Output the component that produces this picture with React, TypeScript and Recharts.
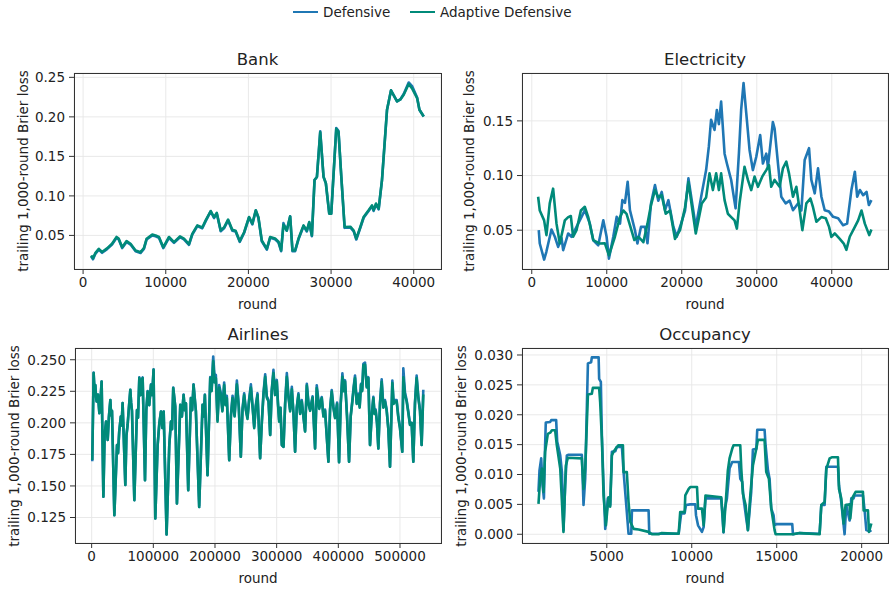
import { LineChart, Line, XAxis, YAxis, CartesianGrid } from "recharts";

type Pt = [number, number];

const BLUE = "#1f77b4";
const TEAL = "#008a79";
const INK = "#222";
const FONT = "'DejaVu Sans', sans-serif";

// ---- Bank ----
const bankAdaptive: Pt[] = [
  [970, 0.0245], [1200, 0.0212], [1500, 0.028], [1900, 0.033], [2300, 0.029], [2900, 0.0336],
  [3500, 0.0394], [4050, 0.048], [4300, 0.046], [4730, 0.035], [5260, 0.0428], [5740, 0.0394],
  [6350, 0.031], [6960, 0.0288], [7360, 0.034], [7680, 0.0458], [8370, 0.051], [8770, 0.05],
  [9180, 0.048], [9700, 0.035], [10390, 0.048], [11000, 0.0415], [11720, 0.0487], [12200, 0.046],
  [12810, 0.039], [13210, 0.052], [13820, 0.0627], [14420, 0.06], [14830, 0.069], [15440, 0.0809],
  [15840, 0.073], [16170, 0.0784], [16650, 0.0564], [17050, 0.06], [17540, 0.07], [18060, 0.057],
  [18450, 0.056], [18950, 0.0428], [19480, 0.054], [20080, 0.0733], [20480, 0.065], [20890, 0.0818],
  [21210, 0.073], [21620, 0.0436], [22230, 0.033], [22630, 0.048], [23230, 0.046], [23640, 0.042],
  [23960, 0.031], [24240, 0.0635], [24640, 0.056], [25050, 0.074], [25330, 0.031], [25650, 0.031],
  [26060, 0.046], [26670, 0.0627], [27070, 0.056], [27360, 0.067], [27680, 0.05], [28000, 0.12],
  [28290, 0.124], [28690, 0.1805], [29090, 0.124], [29370, 0.116], [29780, 0.0776], [30020, 0.0776],
  [30630, 0.185], [30900, 0.181], [31240, 0.124], [31640, 0.0606], [32330, 0.061], [32740, 0.056],
  [33050, 0.0458], [33540, 0.0606], [33940, 0.0733], [34540, 0.0818], [34950, 0.088], [35150, 0.082],
  [35440, 0.0903], [35760, 0.084], [36160, 0.12], [36770, 0.209], [37250, 0.2335], [37980, 0.2195],
  [38380, 0.222], [38790, 0.228], [39390, 0.2415], [39800, 0.236], [40410, 0.2238], [40690, 0.209],
  [41210, 0.2004],
];
const bankDefensive: Pt[] = [
  [970, 0.0235], [1200, 0.0198], [1500, 0.027], [1900, 0.032], [2300, 0.028], [2900, 0.0326],
  [3500, 0.0384], [4050, 0.047], [4300, 0.045], [4730, 0.034], [5260, 0.0418], [5740, 0.0384],
  [6350, 0.03], [6960, 0.0278], [7360, 0.033], [7680, 0.0448], [8370, 0.05], [8770, 0.049],
  [9180, 0.047], [9700, 0.034], [10390, 0.047], [11000, 0.0405], [11720, 0.0477], [12200, 0.045],
  [12810, 0.038], [13210, 0.051], [13820, 0.0617], [14420, 0.059], [14830, 0.068], [15440, 0.0805],
  [15840, 0.072], [16170, 0.078], [16650, 0.0554], [17050, 0.059], [17540, 0.069], [18060, 0.056],
  [18450, 0.055], [18950, 0.0418], [19480, 0.053], [20080, 0.0728], [20480, 0.064], [20890, 0.0815],
  [21210, 0.072], [21620, 0.0426], [22230, 0.032], [22630, 0.047], [23230, 0.045], [23640, 0.041],
  [23960, 0.03], [24240, 0.0655], [24640, 0.056], [25050, 0.0742], [25330, 0.03], [25650, 0.03],
  [26060, 0.045], [26670, 0.0617], [27070, 0.055], [27360, 0.066], [27680, 0.049], [28000, 0.12],
  [28290, 0.124], [28690, 0.1818], [29090, 0.124], [29370, 0.116], [29780, 0.0776], [30020, 0.0776],
  [30630, 0.186], [30900, 0.182], [31240, 0.124], [31640, 0.0596], [32330, 0.06], [32740, 0.055],
  [33050, 0.0448], [33540, 0.0596], [33940, 0.0723], [34540, 0.0808], [34950, 0.087], [35150, 0.081],
  [35440, 0.0893], [35760, 0.083], [36160, 0.12], [36770, 0.209], [37250, 0.2335], [37980, 0.2195],
  [38380, 0.222], [38790, 0.229], [39390, 0.2435], [39800, 0.239], [40410, 0.2245], [40690, 0.209],
  [41210, 0.2004],
];

// ---- Electricity ----
const elecDefensive: Pt[] = [
  [935, 0.05], [1070, 0.0378], [1650, 0.0231], [1940, 0.03], [2630, 0.0506], [3080, 0.044],
  [3520, 0.0347], [3970, 0.043], [4190, 0.0317], [4860, 0.047], [5300, 0.044], [5970, 0.053],
  [6640, 0.0622], [7080, 0.0683], [7750, 0.056], [8200, 0.0408], [8870, 0.0362], [9540, 0.059],
  [9980, 0.044], [10290, 0.024], [10870, 0.044], [11320, 0.0622], [11770, 0.056], [12080, 0.0775],
  [12430, 0.075], [12790, 0.0943], [13090, 0.0683], [13760, 0.05], [14090, 0.0378], [14560, 0.053],
  [15100, 0.053], [15430, 0.038], [15900, 0.0745], [16430, 0.0913], [16870, 0.077], [17330, 0.085],
  [17770, 0.0683], [18220, 0.0775], [18890, 0.053], [19330, 0.044], [19910, 0.056], [20440, 0.068],
  [20890, 0.0974], [21340, 0.077], [21870, 0.053], [22670, 0.0837], [23250, 0.105], [23610, 0.1264],
  [23910, 0.151], [24370, 0.1417], [24680, 0.16], [24950, 0.147], [25250, 0.1677], [25710, 0.12],
  [26020, 0.111], [26590, 0.0959], [27180, 0.07], [27620, 0.12], [27920, 0.16], [28240, 0.1846],
  [28600, 0.157], [29040, 0.1234], [29480, 0.105], [29930, 0.117], [30460, 0.137], [30820, 0.111],
  [31270, 0.12], [31490, 0.108], [32150, 0.149], [32380, 0.143], [32830, 0.111], [33270, 0.0806],
  [33850, 0.0745], [34390, 0.077], [34830, 0.0683], [35500, 0.0745], [35950, 0.068], [36390, 0.1142],
  [36970, 0.125], [37280, 0.096], [37730, 0.0837], [38170, 0.1066], [38620, 0.0806], [39060, 0.0683],
  [39640, 0.067], [40180, 0.0622], [40850, 0.061], [41510, 0.0546], [42050, 0.056], [42620, 0.0867],
  [43080, 0.1035], [43390, 0.0806], [43750, 0.0867], [44190, 0.082], [44640, 0.085], [44950, 0.073],
  [45290, 0.0775],
];
const elecAdaptive: Pt[] = [
  [850, 0.0806], [1070, 0.068], [1650, 0.059], [1960, 0.0455], [2400, 0.0745], [2850, 0.088],
  [3300, 0.056], [3740, 0.0378], [4410, 0.059], [4860, 0.062], [5210, 0.063], [5520, 0.044],
  [5970, 0.05], [6550, 0.068], [7080, 0.0714], [7530, 0.062], [8200, 0.041], [9080, 0.0378],
  [9750, 0.038], [10290, 0.027], [11090, 0.044], [11760, 0.062], [12210, 0.068], [12640, 0.065],
  [13090, 0.0546], [13680, 0.041], [14230, 0.044], [14880, 0.039], [15430, 0.056], [15900, 0.073],
  [16430, 0.0867], [16870, 0.08], [17330, 0.082], [17860, 0.065], [18440, 0.068], [19100, 0.042],
  [19770, 0.05], [20440, 0.071], [20890, 0.094], [21430, 0.068], [21870, 0.047], [22670, 0.0745],
  [23250, 0.08], [23700, 0.102], [24150, 0.0867], [24590, 0.102], [24950, 0.0867], [25250, 0.102],
  [25710, 0.0775], [26150, 0.065], [26590, 0.062], [27040, 0.059], [27350, 0.0515], [27700, 0.0745],
  [28370, 0.108], [28820, 0.096], [29260, 0.0867], [29710, 0.099], [30160, 0.0897], [30730, 0.099],
  [31270, 0.105], [31630, 0.1096], [31930, 0.0897], [32380, 0.096], [33050, 0.0897], [33490, 0.1066],
  [33940, 0.1127], [34300, 0.102], [34830, 0.0806], [35280, 0.0897], [35720, 0.0683], [36080, 0.05],
  [36610, 0.0745], [37150, 0.079], [37500, 0.071], [37950, 0.0577], [38620, 0.062], [39200, 0.061],
  [39640, 0.053], [39950, 0.0439], [40400, 0.047], [41070, 0.042], [41600, 0.0378], [41950, 0.032],
  [42400, 0.044], [43080, 0.053], [43520, 0.059], [43970, 0.068], [44410, 0.056], [45000, 0.0455],
  [45290, 0.0506],
];

// ---- Airlines ----
const airAdaptive: Pt[] = [
  [1000, 0.1705], [3200, 0.2394], [4600, 0.226], [6000, 0.23], [7000, 0.221], [8100, 0.2169],
  [10200, 0.2225], [12500, 0.2076], [14300, 0.218], [16200, 0.2328], [19000, 0.1414], [21000, 0.19],
  [23300, 0.201], [24700, 0.194], [26000, 0.1864], [28000, 0.205], [30300, 0.218], [31600, 0.206],
  [33000, 0.2095], [36800, 0.1268], [41100, 0.1824], [42800, 0.176], [44700, 0.193], [47300, 0.205],
  [48600, 0.198], [50200, 0.2156], [54600, 0.1507], [56400, 0.19], [58300, 0.1983], [60400, 0.212],
  [62700, 0.2261], [64000, 0.216], [65400, 0.2095], [69200, 0.1388], [73500, 0.2102], [75200, 0.204],
  [77300, 0.2355], [79500, 0.222], [81000, 0.234], [82700, 0.2355], [86500, 0.1546], [88600, 0.21],
  [90800, 0.2248], [93400, 0.214], [96200, 0.23], [98200, 0.222], [100400, 0.2421], [103200, 0.1242],
  [107000, 0.1824], [109800, 0.2], [112400, 0.209], [114600, 0.196], [116800, 0.209], [121500, 0.1115],
  [125900, 0.1824], [128600, 0.201], [130400, 0.195], [132300, 0.2275], [135600, 0.2129], [138300, 0.1361],
  [143700, 0.2142], [146300, 0.205], [149100, 0.222], [151000, 0.21], [152900, 0.2155], [156600, 0.1467],
  [160900, 0.2196], [163000, 0.21], [165200, 0.2301], [169000, 0.2095], [174400, 0.1334], [179800, 0.2142],
  [181800, 0.205], [183600, 0.222], [187900, 0.1586], [192300, 0.2355], [194600, 0.225], [197100, 0.249],
  [199300, 0.232], [201400, 0.2355], [204100, 0.201], [206800, 0.228], [209500, 0.222], [212000, 0.209],
  [214900, 0.23], [217000, 0.214], [219200, 0.2196], [223100, 0.1705], [225800, 0.205], [228500, 0.2196],
  [231800, 0.205], [235500, 0.2305], [238600, 0.212], [241900, 0.1732], [244600, 0.21], [247300, 0.222],
  [250000, 0.21], [252700, 0.203], [255400, 0.218], [258200, 0.228], [261000, 0.212], [263600, 0.1957],
  [266200, 0.213], [269000, 0.222], [273200, 0.1719], [275900, 0.2], [278600, 0.222], [281400, 0.2365],
  [284000, 0.22], [286800, 0.2169], [289500, 0.1904], [292000, 0.225], [294800, 0.2395], [297400, 0.222],
  [300200, 0.2328], [302100, 0.215], [304000, 0.201], [306200, 0.212], [308400, 0.1824], [311100, 0.181],
  [313800, 0.215], [316500, 0.2365], [319200, 0.22], [321900, 0.209], [324600, 0.2265], [327200, 0.208],
  [329900, 0.1771], [332600, 0.212], [335300, 0.222], [338000, 0.207], [340700, 0.2169], [343400, 0.205],
  [346100, 0.193], [348900, 0.2295], [351600, 0.215], [354300, 0.2095], [358300, 0.22], [362300, 0.1798],
  [365000, 0.2275], [369000, 0.211], [373100, 0.2196], [375800, 0.205], [378500, 0.2095], [383900, 0.1692],
  [386600, 0.21], [389300, 0.2248], [392000, 0.212], [394700, 0.2037], [398000, 0.215], [401200, 0.1688],
  [403900, 0.215], [406600, 0.2365], [408700, 0.225], [410900, 0.2328], [414100, 0.205], [417400, 0.1692],
  [420100, 0.205], [422800, 0.2169], [425000, 0.228], [427100, 0.2355], [429800, 0.215], [432500, 0.222],
  [434600, 0.212], [436800, 0.2301], [438700, 0.225], [440600, 0.2455], [443300, 0.2462], [446000, 0.228],
  [448700, 0.2355], [451400, 0.1824], [454100, 0.205], [456800, 0.2196], [458700, 0.207], [460600, 0.2095],
  [462700, 0.2], [464900, 0.1798], [467600, 0.215], [470300, 0.2325], [473000, 0.212], [475700, 0.2169],
  [478400, 0.2095], [481100, 0.195], [483800, 0.1652], [487600, 0.2315], [489700, 0.215], [491900, 0.2169],
  [494600, 0.2169], [497300, 0.204], [500000, 0.1957], [503700, 0.1771], [505400, 0.236], [508100, 0.222],
  [510800, 0.2169], [513500, 0.208], [516200, 0.1983], [518900, 0.2], [521600, 0.1692], [524300, 0.215],
  [527000, 0.2355], [529700, 0.22], [532400, 0.2095], [535100, 0.1824], [537800, 0.2225],
];
const airDefensive: Pt[] = [
  [1000, 0.1695], [3200, 0.2398], [4600, 0.226], [6000, 0.23], [7000, 0.221], [8100, 0.2169],
  [10200, 0.2225], [12500, 0.2076], [14300, 0.218], [16200, 0.2328], [19000, 0.1414], [21000, 0.19],
  [23300, 0.201], [24700, 0.194], [26000, 0.1864], [28000, 0.205], [30300, 0.218], [31600, 0.206],
  [33000, 0.2095], [36800, 0.1268], [41100, 0.1824], [42800, 0.176], [44700, 0.193], [47300, 0.205],
  [48600, 0.198], [50200, 0.2156], [54600, 0.1507], [56400, 0.19], [58300, 0.1983], [60400, 0.212],
  [62700, 0.2261], [64000, 0.216], [65400, 0.2095], [69200, 0.1388], [73500, 0.2102], [75200, 0.204],
  [77300, 0.236], [79500, 0.222], [81000, 0.234], [82700, 0.236], [86500, 0.1546], [88600, 0.21],
  [90800, 0.2252], [93400, 0.214], [96200, 0.2305], [98200, 0.222], [100400, 0.2425], [103200, 0.1242],
  [107000, 0.1824], [109800, 0.2], [112400, 0.209], [114600, 0.196], [116800, 0.209], [121500, 0.1115],
  [125900, 0.1824], [128600, 0.201], [130400, 0.195], [132300, 0.228], [135600, 0.2129], [138300, 0.1361],
  [143700, 0.2142], [146300, 0.205], [149100, 0.2225], [151000, 0.21], [152900, 0.2155], [156600, 0.1467],
  [160900, 0.2196], [163000, 0.21], [165200, 0.2306], [169000, 0.2095], [174400, 0.1334], [179800, 0.2142],
  [181800, 0.205], [183600, 0.2225], [187900, 0.1586], [192300, 0.2362], [194600, 0.227], [197100, 0.2526],
  [199300, 0.236], [201400, 0.238], [204100, 0.2025], [206800, 0.23], [209500, 0.2235], [212000, 0.21],
  [214900, 0.232], [217000, 0.215], [219200, 0.2215], [223100, 0.1705], [225800, 0.206], [228500, 0.2215],
  [231800, 0.206], [235500, 0.2335], [238600, 0.213], [241900, 0.1732], [244600, 0.211], [247300, 0.2235],
  [250000, 0.211], [252700, 0.2045], [255400, 0.219], [258200, 0.2305], [261000, 0.213], [263600, 0.197],
  [266200, 0.214], [269000, 0.2235], [273200, 0.1719], [275900, 0.2], [278600, 0.2235], [281400, 0.2385],
  [284000, 0.221], [286800, 0.218], [289500, 0.1904], [292000, 0.226], [294800, 0.242], [297400, 0.223],
  [300200, 0.234], [302100, 0.216], [304000, 0.2025], [306200, 0.212], [308400, 0.1824], [311100, 0.181],
  [313800, 0.216], [316500, 0.2395], [319200, 0.221], [321900, 0.2105], [324600, 0.2285], [327200, 0.208],
  [329900, 0.1771], [332600, 0.212], [335300, 0.2235], [338000, 0.208], [340700, 0.218], [343400, 0.205],
  [346100, 0.1935], [348900, 0.231], [351600, 0.216], [354300, 0.2105], [358300, 0.221], [362300, 0.1798],
  [365000, 0.2298], [369000, 0.212], [373100, 0.2205], [375800, 0.206], [378500, 0.2105], [383900, 0.1692],
  [386600, 0.211], [389300, 0.226], [392000, 0.213], [394700, 0.2045], [398000, 0.216], [401200, 0.1688],
  [403900, 0.216], [406600, 0.2392], [408700, 0.226], [410900, 0.2338], [414100, 0.206], [417400, 0.1692],
  [420100, 0.206], [422800, 0.218], [425000, 0.229], [427100, 0.2375], [429800, 0.216], [432500, 0.2232],
  [434600, 0.213], [436800, 0.231], [438700, 0.226], [440600, 0.2468], [443300, 0.2478], [446000, 0.229],
  [448700, 0.2362], [451400, 0.1824], [454100, 0.206], [456800, 0.2206], [458700, 0.208], [460600, 0.2105],
  [462700, 0.2], [464900, 0.1798], [467600, 0.216], [470300, 0.2345], [473000, 0.213], [475700, 0.218],
  [478400, 0.2105], [481100, 0.195], [483800, 0.1652], [487600, 0.2335], [489700, 0.216], [491900, 0.218],
  [494600, 0.218], [497300, 0.205], [500000, 0.1965], [503700, 0.1771], [505400, 0.2432], [508100, 0.224],
  [510800, 0.218], [513500, 0.209], [516200, 0.199], [518900, 0.2], [521600, 0.1692], [524300, 0.216],
  [527000, 0.2375], [529700, 0.221], [532400, 0.2105], [535100, 0.1824], [537800, 0.2262],
];

// ---- Occupancy ----
const occDefensive: Pt[] = [
  [980, 0.0071], [1040, 0.0107], [1140, 0.0127], [1220, 0.0082], [1300, 0.006], [1370, 0.0149],
  [1410, 0.0187], [1670, 0.0188], [1730, 0.0191], [2020, 0.0191], [2080, 0.0155], [2260, 0.0132],
  [2360, 0.0104], [2450, 0.0007], [2550, 0.0082], [2650, 0.0132], [2750, 0.0133], [3530, 0.0133],
  [3570, 0.0104], [3630, 0.0049], [3730, 0.0093], [3830, 0.0216], [3890, 0.0286], [4080, 0.0288],
  [4120, 0.0296], [4520, 0.0296], [4550, 0.026], [4650, 0.0255], [4710, 0.0166], [4810, 0.0082],
  [4910, 0.0009], [5060, 0.006], [5200, 0.0049], [5300, 0.0138], [5500, 0.0139], [5590, 0.0146],
  [5890, 0.0146], [5990, 0.0104], [6140, 0.0051], [6280, 0.0001], [6440, 0.0001], [6480, 0.004],
  [7460, 0.004], [7500, 0.0001], [9230, 0.0001], [9380, 0.0035], [9580, 0.0035], [9660, 0.0049],
  [9910, 0.005], [10210, 0.005], [10250, 0.0032], [10370, 0.0015], [10600, 0.0004], [10700, 0.0012],
  [10810, 0.006], [11735, 0.006], [11790, 0.0037], [11870, 0.0003], [11950, 0.0043], [12070, 0.006],
  [12225, 0.011], [12380, 0.0121], [12775, 0.0121], [12855, 0.0093], [12970, 0.0088], [13050, 0.006],
  [13210, 0.0026], [13305, 0.0007], [13500, 0.0071], [13600, 0.0142], [13800, 0.0143], [13855, 0.0175],
  [14285, 0.0175], [14345, 0.0149], [14485, 0.0107], [14580, 0.0093], [14680, 0.0043], [14815, 0.0032],
  [14875, 0.0015], [14975, 0.0017], [15915, 0.0017], [15955, 0], [16350, 0.0002], [17525, 0.0001],
  [17625, 0.0049], [17820, 0.0049], [17920, 0.0113], [18605, 0.0113], [18665, 0.0082], [18800, 0.0054],
  [18900, 0.0026], [18995, 0], [19095, 0.0049], [19290, 0.0023], [19390, 0.006], [19525, 0.006],
  [19585, 0.0065], [20075, 0.0065], [20175, 0.004], [20275, 0.0007], [20470, 0.0005], [20570, 0.0007],
];
const occAdaptive: Pt[] = [
  [980, 0.0051], [1080, 0.0093], [1180, 0.011], [1280, 0.0071], [1370, 0.0138], [1530, 0.0168],
  [1670, 0.017], [1770, 0.0174], [1960, 0.0174], [2060, 0.0149], [2260, 0.011], [2450, 0.0004],
  [2590, 0.0115], [2710, 0.0128], [3530, 0.0127], [3630, 0.0076], [3730, 0.011], [3830, 0.0188],
  [3890, 0.0234], [4120, 0.0235], [4180, 0.0245], [4550, 0.0245], [4610, 0.0221], [4710, 0.016],
  [4810, 0.0065], [4950, 0.0015], [5100, 0.0062], [5200, 0.0046], [5300, 0.0132], [5400, 0.0138],
  [5590, 0.0146], [5690, 0.0149], [5950, 0.0149], [5990, 0.0104], [6180, 0.0104], [6280, 0.0054],
  [6380, 0.0021], [6580, 0.0009], [6870, 0.0008], [7460, 0.0004], [7660, 0], [8050, 0],
  [8240, 0.0002], [9230, 0.0001], [9320, 0.0037], [9580, 0.0037], [9620, 0.0065], [9820, 0.0076],
  [9910, 0.0079], [10310, 0.0079], [10370, 0.0043], [10600, 0.0043], [10700, 0.0015], [10810, 0.0065],
  [11735, 0.0062], [11830, 0.0026], [11870, 0.0004], [11990, 0.0049], [12125, 0.0107], [12225, 0.0127],
  [12380, 0.0143], [12460, 0.0149], [12855, 0.0149], [12915, 0.011], [13010, 0.0068], [13170, 0.0049],
  [13305, 0.0007], [13445, 0.0065], [13600, 0.0115], [13800, 0.0143], [13895, 0.0158], [14285, 0.0158],
  [14385, 0.0104], [14540, 0.0093], [14680, 0.0043], [14875, 0.0007], [14935, 0], [15955, 0],
  [16350, 0.0002], [17525, 0], [17625, 0.0049], [17820, 0.0054], [17920, 0.0109], [18115, 0.0127],
  [18270, 0.0129], [18605, 0.0129], [18665, 0.0076], [18800, 0.006], [18940, 0.0018], [19055, 0.0049],
  [19290, 0.005], [19330, 0.0026], [19450, 0.0061], [19645, 0.0071], [20075, 0.0071], [20115, 0.004],
  [20370, 0.004], [20430, 0.0004], [20570, 0.0018],
];

// ticks
const bankXTicks = [0, 10000, 20000, 30000, 40000];
const bankYTicks = [0.05, 0.1, 0.15, 0.2, 0.25];
const elecXTicks = [0, 10000, 20000, 30000, 40000];
const elecYTicks = [0.05, 0.1, 0.15];
const airXTicks = [0, 100000, 200000, 300000, 400000, 500000];
const airYTicks = [0.125, 0.15, 0.175, 0.2, 0.225, 0.25];
const occXTicks = [5000, 10000, 15000, 20000];
const occYTicks = [0, 0.005, 0.01, 0.015, 0.02, 0.025, 0.03];

const Y_LABEL = "trailing 1,000-round Brier loss";

const toRows = (pts: Pt[]) => pts.map(([x, y]) => ({ x, y }));

type PanelProps = {
  title: string;
  plot: { left: number; top: number; width: number; height: number };
  xDomain: [number, number];
  yDomain: [number, number];
  xTicks: number[];
  yTicks: number[];
  yDigits: number;
  yLabelX: number;
  defensive: Pt[];
  adaptive: Pt[];
};

const YW = 70;
const XH = 30;
const MT = 10;
const MR = 30;

function Panel(p: PanelProps) {
  const { plot } = p;
  const tick = { fontSize: 13.5, fill: INK, fontFamily: FONT };
  const tickLine = { stroke: "#333", strokeWidth: 1 };
  const cx = plot.left + plot.width / 2;
  const cy = plot.top + plot.height / 2;
  return (
    <>
      <div
        style={{
          position: "absolute", left: cx, top: plot.top - 13, transform: "translate(-50%, -50%)",
          fontSize: 16.5, color: INK, whiteSpace: "nowrap", lineHeight: "18px",
        }}
      >
        {p.title}
      </div>
      <div
        style={{
          position: "absolute", left: p.yLabelX, top: cy, transform: "translate(-50%, -50%) rotate(-90deg)",
          fontSize: 13.5, color: INK, whiteSpace: "nowrap", lineHeight: "16px",
        }}
      >
        {Y_LABEL}
      </div>
      <div
        style={{
          position: "absolute", left: cx, top: plot.top + plot.height + 35, transform: "translate(-50%, -50%)",
          fontSize: 13.5, color: INK, whiteSpace: "nowrap", lineHeight: "16px",
        }}
      >
        round
      </div>
      <div style={{ position: "absolute", left: plot.left - YW, top: plot.top - MT }}>
        <LineChart
          width={plot.width + YW + MR}
          height={plot.height + MT + XH}
          margin={{ top: MT, right: MR, bottom: 0, left: 0 }}
        >
          <CartesianGrid stroke="#e6e6e6" strokeWidth={0.9} />
          <XAxis
            dataKey="x" type="number" domain={p.xDomain} ticks={p.xTicks} allowDataOverflow
            height={XH} tick={tick} tickSize={5} tickMargin={3} axisLine={false} tickLine={tickLine}
            interval={0}
          />
          <YAxis
            type="number" domain={p.yDomain} ticks={p.yTicks} allowDataOverflow width={YW}
            tick={tick} tickSize={5} tickMargin={4} axisLine={false} tickLine={tickLine} interval={0}
            tickFormatter={(v: number) => v.toFixed(p.yDigits)}
          />
          <Line
            data={toRows(p.defensive)} dataKey="y" type="linear" stroke={BLUE} strokeWidth={2.6}
            dot={false} isAnimationActive={false} strokeLinejoin="round"
          />
          <Line
            data={toRows(p.adaptive)} dataKey="y" type="linear" stroke={TEAL} strokeWidth={2.6}
            dot={false} isAnimationActive={false} strokeLinejoin="round"
          />
        </LineChart>
      </div>
      {/* axes frame */}
      <div
        style={{
          position: "absolute", left: plot.left - 0.5, top: plot.top - 0.5, width: plot.width + 1,
          height: plot.height + 1, border: "1px solid #333", boxSizing: "border-box", pointerEvents: "none",
        }}
      />
    </>
  );
}

function LegendItem({ color, label, left }: { color: string; label: string; left: number }) {
  return (
    <div style={{ position: "absolute", left, top: 3, height: 18, display: "flex", alignItems: "center" }}>
      <div style={{ width: 25, height: 2.6, background: color }} />
      <span style={{ marginLeft: 5, fontSize: 13.5, color: INK }}>{label}</span>
    </div>
  );
}

export default function App() {
  return (
    <div
      style={{
        position: "absolute", left: 0, top: 0, width: 895, height: 590, background: "#fff",
        fontFamily: FONT, overflow: "hidden",
      }}
    >
      <LegendItem color={BLUE} label="Defensive" left={293} />
      <LegendItem color={TEAL} label="Adaptive Defensive" left={410} />

      <Panel
        title="Bank"
        plot={{ left: 74, top: 73, width: 367, height: 196 }}
        xDomain={[-1100, 43300]} yDomain={[0.0075, 0.2555]}
        xTicks={bankXTicks} yTicks={bankYTicks} yDigits={2} yLabelX={22.5}
        defensive={bankDefensive} adaptive={bankAdaptive}
      />
      <Panel
        title="Electricity"
        plot={{ left: 522, top: 73, width: 366, height: 196 }}
        xDomain={[-1300, 47500]} yDomain={[0.0145, 0.1938]}
        xTicks={elecXTicks} yTicks={elecYTicks} yDigits={2} yLabelX={469}
        defensive={elecDefensive} adaptive={elecAdaptive}
      />
      <Panel
        title="Airlines"
        plot={{ left: 75, top: 348, width: 366, height: 195 }}
        xDomain={[-27000, 566500]} yDomain={[0.1048, 0.2593]}
        xTicks={airXTicks} yTicks={airYTicks} yDigits={3} yLabelX={14}
        defensive={airDefensive} adaptive={airAdaptive}
      />
      <Panel
        title="Occupancy"
        plot={{ left: 522, top: 348, width: 366, height: 195 }}
        xDomain={[10, 21550]} yDomain={[-0.00146, 0.03117]}
        xTicks={occXTicks} yTicks={occYTicks} yDigits={3} yLabelX={461}
        defensive={occDefensive} adaptive={occAdaptive}
      />
    </div>
  );
}
